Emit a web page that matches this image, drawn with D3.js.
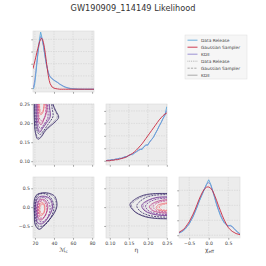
<!DOCTYPE html>
<html>
<head>
<meta charset="utf-8">
<script src="https://cdn.jsdelivr.net/npm/d3@7"></script>
<style>
  body { margin: 0; background: #fff; }
  svg { display: block; font-family: "DejaVu Sans", sans-serif; }
</style>
</head>
<body>
<div id="chart"></div>
<script>
// ---- data ----
const mcGrid = [18,19,20,21,22,23,24,25,26,27,28,29,30,31,32,33,34,35,36,38,40,42,44,46,48,50,52,55,58,62,66,72,82]
const mcData = [0.00,0.03,0.12,0.28,0.45,0.62,0.78,0.92,1.03,0.96,0.86,0.78,0.66,0.55,0.45,0.37,0.30,0.25,0.22,0.19,0.16,0.14,0.12,0.09,0.07,0.05,0.035,0.02,0.01,0.005,0,0,0]
const mcGauss = [0.37,0.44,0.51,0.58,0.66,0.73,0.80,0.86,0.90,0.92,0.90,0.84,0.75,0.63,0.50,0.37,0.25,0.16,0.10,0.04,0.02,0.01,0.005,0,0,0,0,0,0,0,0,0,0]
const mcKde = [0.02,0.08,0.18,0.32,0.48,0.63,0.77,0.88,0.95,0.94,0.87,0.78,0.67,0.56,0.46,0.38,0.31,0.26,0.23,0.19,0.165,0.14,0.12,0.095,0.075,0.055,0.04,0.022,0.012,0.005,0.002,0,0]

const etaGrid = [0.090,0.095,0.100,0.105,0.110,0.115,0.120,0.125,0.130,0.135,0.140,0.145,0.150,0.155,0.160,0.165,0.170,0.175,0.180,0.185,0.190,0.195,0.200,0.205,0.210,0.215,0.220,0.225,0.230,0.235,0.240,0.245,0.250]
const etaData = [0.00,0.01,0.01,0.02,0.02,0.03,0.03,0.05,0.04,0.06,0.08,0.07,0.10,0.12,0.11,0.15,0.17,0.20,0.22,0.21,0.27,0.30,0.29,0.36,0.40,0.44,0.52,0.58,0.66,0.72,0.80,0.86,1.02]
const etaGauss = [0.00,0.00,0.00,0.01,0.01,0.02,0.02,0.03,0.04,0.05,0.06,0.08,0.10,0.12,0.14,0.17,0.20,0.24,0.28,0.32,0.37,0.42,0.47,0.52,0.57,0.62,0.67,0.72,0.77,0.81,0.85,0.88,0.90]
const etaKde = [0.00,0.01,0.01,0.02,0.02,0.03,0.04,0.04,0.05,0.06,0.07,0.08,0.10,0.11,0.13,0.15,0.17,0.19,0.21,0.23,0.26,0.29,0.31,0.35,0.40,0.45,0.51,0.58,0.65,0.72,0.79,0.86,0.95]

const chiGrid = [-0.76,-0.7,-0.65,-0.6,-0.55,-0.5,-0.45,-0.4,-0.35,-0.3,-0.25,-0.2,-0.15,-0.1,-0.05,0.0,0.05,0.1,0.15,0.2,0.25,0.3,0.35,0.4,0.45,0.5,0.55,0.6,0.65,0.7,0.75,0.8]
const chiData = [0.04,0.06,0.08,0.11,0.16,0.20,0.27,0.33,0.42,0.50,0.60,0.68,0.76,0.85,0.93,1.00,0.92,0.80,0.68,0.55,0.45,0.35,0.28,0.22,0.19,0.17,0.18,0.16,0.12,0.08,0.05,0.02]
const chiGauss = [0.05,0.08,0.10,0.14,0.19,0.24,0.31,0.38,0.46,0.55,0.64,0.72,0.79,0.84,0.87,0.87,0.85,0.80,0.72,0.63,0.53,0.44,0.35,0.27,0.20,0.14,0.10,0.07,0.05,0.03,0.02,0.01]
const chiKde = [0.04,0.06,0.09,0.12,0.16,0.21,0.27,0.34,0.42,0.51,0.60,0.69,0.77,0.85,0.92,0.95,0.91,0.81,0.69,0.57,0.46,0.37,0.29,0.23,0.19,0.17,0.17,0.15,0.12,0.08,0.05,0.03]

// contour lines, outer level first: [x, y] in data units
const mcChiKde = [
  [[19.4,0.19],[21.5,0.31],[28,0.38],[36,0.36],[41,0.28],[43.2,0.05],[40.5,-0.15],[32,-0.42],[24.5,-0.59],[20.3,-0.47],[19.4,-0.2]],
  [[21,0.12],[23.5,0.26],[30,0.29],[36,0.22],[38.5,0.0],[35,-0.23],[28,-0.44],[22.8,-0.42],[21,-0.15]],
  [[22.8,0.06],[25,0.19],[30,0.2],[33.5,0.05],[32,-0.16],[27,-0.34],[23.5,-0.29],[22.6,-0.1]],
  [[24.5,0.0],[26,0.11],[29,0.11],[30.5,-0.02],[29,-0.18],[26,-0.23],[24.5,-0.13]]
]
const mcChiGauss = [
  [[20.3,0.08],[23,0.31],[29,0.36],[36,0.27],[40,0.02],[37,-0.26],[30,-0.48],[23.5,-0.5],[20.5,-0.3]],
  [[22,0.02],[24.5,0.21],[29,0.26],[34,0.15],[36,-0.05],[33,-0.28],[28,-0.39],[23.5,-0.34],[22,-0.18]],
  [[23.6,-0.02],[25.5,0.14],[29,0.17],[32,0.05],[32.5,-0.1],[30,-0.26],[26,-0.29],[24,-0.19]],
  [[25.4,-0.04],[27,0.07],[29.5,0.06],[30.2,-0.08],[28.5,-0.18],[26.5,-0.17]]
]
const mcChiData = [
  [[19.7,0.14],[22,0.34],[28.5,0.37],[35.5,0.34],[40.5,0.24],[42.4,0.02],[39.5,-0.18],[31.5,-0.44],[24.8,-0.57],[20.6,-0.44],[19.7,-0.18]],
  [[21.4,0.1],[24,0.25],[30,0.27],[35.5,0.2],[37.8,-0.02],[34.5,-0.24],[28,-0.42],[23.2,-0.4],[21.4,-0.16]],
  [[23.2,0.04],[25.3,0.17],[29.8,0.18],[33,0.04],[31.6,-0.17],[27,-0.32],[23.8,-0.27],[23,-0.1]],
  [[24.8,-0.02],[26.2,0.09],[28.8,0.09],[30,-0.03],[28.6,-0.16],[26.2,-0.2],[24.9,-0.12]]
]

const etaChiKde = [
  [[0.262,0.36],[0.22,0.36],[0.19,0.32],[0.165,0.2],[0.153,0.07],[0.163,-0.1],[0.188,-0.24],[0.22,-0.3],[0.262,-0.31]],
  [[0.262,0.27],[0.225,0.26],[0.2,0.18],[0.184,0.05],[0.19,-0.08],[0.21,-0.18],[0.235,-0.22],[0.262,-0.22]],
  [[0.262,0.2],[0.235,0.18],[0.213,0.1],[0.204,0.01],[0.212,-0.09],[0.235,-0.15],[0.262,-0.16]],
  [[0.262,0.12],[0.242,0.1],[0.226,0.05],[0.222,-0.02],[0.229,-0.08],[0.245,-0.1],[0.262,-0.1]]
]
const etaChiGauss = [
  [[0.262,0.33],[0.222,0.32],[0.196,0.26],[0.176,0.12],[0.171,0.03],[0.18,-0.11],[0.2,-0.21],[0.23,-0.26],[0.262,-0.26]],
  [[0.262,0.24],[0.228,0.22],[0.205,0.14],[0.194,0.03],[0.2,-0.08],[0.218,-0.16],[0.24,-0.19],[0.262,-0.19]],
  [[0.262,0.17],[0.238,0.15],[0.22,0.08],[0.214,0.01],[0.22,-0.07],[0.24,-0.12],[0.262,-0.13]],
  [[0.262,0.1],[0.245,0.08],[0.232,0.03],[0.231,-0.03],[0.238,-0.07],[0.25,-0.08],[0.262,-0.08]]
]
const etaChiData = [
  [[0.262,0.35],[0.22,0.35],[0.192,0.3],[0.168,0.18],[0.157,0.06],[0.166,-0.11],[0.19,-0.23],[0.222,-0.29],[0.262,-0.3]],
  [[0.262,0.26],[0.226,0.25],[0.202,0.17],[0.188,0.04],[0.193,-0.08],[0.212,-0.17],[0.236,-0.21],[0.262,-0.21]],
  [[0.262,0.19],[0.236,0.17],[0.216,0.09],[0.208,0.0],[0.215,-0.09],[0.237,-0.14],[0.262,-0.15]],
  [[0.262,0.11],[0.244,0.09],[0.229,0.04],[0.226,-0.03],[0.233,-0.08],[0.248,-0.09],[0.262,-0.09]]
]

const mcEtaKde = [
  [[19.3,0.262],[19.4,0.21],[20.5,0.175],[23,0.158],[26,0.162],[31,0.18],[36,0.192],[42,0.205],[45,0.216],[42,0.232],[39,0.25],[38.5,0.262]],
  [[21.2,0.262],[21.4,0.215],[22.8,0.186],[25,0.176],[28,0.186],[32,0.2],[36,0.216],[35.5,0.24],[34.5,0.262]],
  [[22.9,0.262],[23.1,0.222],[24.5,0.2],[26.5,0.196],[29.5,0.21],[32.5,0.232],[32,0.262]],
  [[24.3,0.262],[24.5,0.235],[26,0.222],[28,0.226],[29.5,0.243],[29.5,0.262]]
]
const mcEtaGauss = [
  [[20,0.262],[20.3,0.215],[22,0.182],[25,0.17],[29,0.18],[34,0.198],[39,0.218],[38,0.24],[37,0.262]],
  [[22,0.262],[22.2,0.22],[23.6,0.195],[26,0.186],[29.5,0.197],[33.5,0.215],[33.5,0.24],[33,0.262]],
  [[23.6,0.262],[23.8,0.228],[25.2,0.21],[27.5,0.206],[30.5,0.218],[31.5,0.24],[31,0.262]],
  [[25,0.262],[25.2,0.238],[26.7,0.228],[28.5,0.232],[29.8,0.248],[29.8,0.262]]
]
const mcEtaData = [
  [[19.5,0.262],[19.6,0.21],[20.8,0.178],[23.3,0.162],[26.3,0.166],[31,0.183],[36,0.195],[41,0.207],[43.5,0.218],[41,0.234],[38.5,0.25],[38,0.262]],
  [[21.4,0.262],[21.6,0.216],[23,0.19],[25.2,0.18],[28.2,0.19],[32,0.203],[35.5,0.22],[35,0.242],[34,0.262]],
  [[23.1,0.262],[23.3,0.224],[24.7,0.203],[26.7,0.2],[29.6,0.213],[32,0.234],[31.6,0.262]],
  [[24.5,0.262],[24.7,0.236],[26.2,0.225],[28.1,0.229],[29.4,0.245],[29.4,0.262]]
]

const mcTicks = [20, 40, 60, 80]
const etaTicks = [0.10, 0.15, 0.20, 0.25]
const chiTicks = [-0.5, 0.0, 0.5]
const dens0Ticks = [0.02, 0.24, 0.46, 0.68, 0.9]
const dens1Ticks = [0, 0.235, 0.47, 0.705, 0.94]
const dens2Ticks = [0, 0.27, 0.54, 0.81]

const legendLabels = ['Data Release', 'Gaussian Sampler', 'KDE', 'Data Release', 'Gaussian Sampler', 'KDE']

// ---- styling ----
const blue = '#5aa6da', red = '#c8283f', purple = '#9287cf'
const levelColors = ['#2a1a5e', '#6c2a8e', '#b93c86', '#f2727a']
const styleDash = { data: '0.6,0.9', gauss: '2,1', kde: null }

let width = 266, height = 266
let size = 61
let colX = [33, 106, 179], rowY = [31, 104, 177]

let svg = d3.select('#chart').append('svg')
  .attr('width', width).attr('height', height)

svg.append('text')
  .attr('x', 133).attr('y', 10.5)
  .attr('text-anchor', 'middle')
  .style('font-size', '8.2px')
  .style('fill', '#333')
  .text('GW190909_114149 Likelihood')

let xMc = d3.scaleLinear().domain([18, 82]).range([0, size])
let xEta = d3.scaleLinear().domain([0.09, 0.2505]).range([0, size])
let xChi = d3.scaleLinear().domain([-0.76, 0.8]).range([0, size])
let yEta = d3.scaleLinear().domain([0.09, 0.2505]).range([size, 0])
let yChi = d3.scaleLinear().domain([-0.82, 0.8]).range([size, 0])
let yD0 = d3.scaleLinear().domain([-0.05, 1.05]).range([size, 0])
let yD1 = d3.scaleLinear().domain([-0.08, 1.07]).range([size, 0])
let yD2 = d3.scaleLinear().domain([-0.05, 1.05]).range([size, 0])

let clipId = 0

function panel (col, row, xs, ys, xt, yt, xfmt, yfmt) {
  let g = svg.append('g')
    .attr('transform', 'translate(' + colX[col] + ',' + rowY[row] + ')')

  g.append('rect')
    .attr('width', size).attr('height', size)
    .style('fill', '#ececec')

  // grid
  g.selectAll('.gx').data(xt).enter().append('line')
    .attr('x1', d => xs(d)).attr('x2', d => xs(d))
    .attr('y1', 0).attr('y2', size)
    .style('stroke', '#cdcdcd').style('stroke-width', 0.5)
    .style('stroke-dasharray', '1.5,1')
  g.selectAll('.gy').data(yt).enter().append('line')
    .attr('y1', d => ys(d)).attr('y2', d => ys(d))
    .attr('x1', 0).attr('x2', size)
    .style('stroke', '#cdcdcd').style('stroke-width', 0.5)
    .style('stroke-dasharray', '1.5,1')

  g.append('rect')
    .attr('width', size).attr('height', size)
    .style('fill', 'none').style('stroke', '#dadada').style('stroke-width', 0.6)

  // axes
  let ax = g.append('g').attr('transform', 'translate(0,' + size + ')')
    .call(d3.axisBottom(xs).tickValues(xt).tickSize(1.8).tickPadding(1.5)
      .tickFormat(xfmt ? d3.format(xfmt) : ''))
  let ay = g.append('g')
    .call(d3.axisLeft(ys).tickValues(yt).tickSize(1.8).tickPadding(1.2)
      .tickFormat(yfmt ? d3.format(yfmt) : ''))
  ;[ax, ay].forEach(a => {
    a.select('.domain').remove()
    a.selectAll('line').style('stroke', '#555').style('stroke-width', 0.5)
    a.selectAll('text').style('font-size', '4.6px').style('fill', '#444')
      .style('font-family', '"DejaVu Sans", sans-serif')
  })

  let id = 'clip' + (clipId++)
  g.append('clipPath').attr('id', id)
    .append('rect').attr('width', size).attr('height', size)
  return g.append('g').attr('clip-path', 'url(#' + id + ')')
}

function curve1d (g, xs, ys, grid, vals, color, w) {
  let line = d3.line().x((d, i) => xs(grid[i])).y(d => ys(d))
  g.append('path').datum(vals)
    .attr('d', line)
    .style('fill', 'none').style('stroke', color).style('stroke-width', w || 0.9)
}

function contours (g, xs, ys, sets, closed) {
  let line = d3.line().x(d => xs(d[0])).y(d => ys(d[1]))
    .curve(closed ? d3.curveCatmullRomClosed : d3.curveCatmullRom)
  sets.forEach(s => {
    s.levels.forEach((pts, i) => {
      g.append('path').datum(pts)
        .attr('d', line)
        .style('fill', 'none')
        .style('stroke', levelColors[i])
        .style('stroke-width', 0.75)
        .style('stroke-dasharray', styleDash[s.kind])
    })
  })
}

// diagonal: chirp mass
let p00 = panel(0, 0, xMc, yD0, mcTicks, dens0Ticks, null, null)
curve1d(p00, xMc, yD0, mcGrid, mcKde, purple)
curve1d(p00, xMc, yD0, mcGrid, mcData, blue)
curve1d(p00, xMc, yD0, mcGrid, mcGauss, red)

// mass ratio parameter eta vs chirp mass
let p10 = panel(0, 1, xMc, yEta, mcTicks, etaTicks, null, '.2f')
contours(p10, xMc, yEta, [
  { kind: 'kde', levels: mcEtaKde },
  { kind: 'gauss', levels: mcEtaGauss },
  { kind: 'data', levels: mcEtaData }
], false)

// diagonal: eta
let p11 = panel(1, 1, xEta, yD1, etaTicks, dens1Ticks, null, null)
curve1d(p11, xEta, yD1, etaGrid, etaKde, purple)
curve1d(p11, xEta, yD1, etaGrid, etaData, blue)
curve1d(p11, xEta, yD1, etaGrid, etaGauss, red)

// chi_eff vs chirp mass
let p20 = panel(0, 2, xMc, yChi, mcTicks, chiTicks, 'd', '.1f')
contours(p20, xMc, yChi, [
  { kind: 'kde', levels: mcChiKde },
  { kind: 'gauss', levels: mcChiGauss },
  { kind: 'data', levels: mcChiData }
], true)

// chi_eff vs eta
let p21 = panel(1, 2, xEta, yChi, etaTicks, chiTicks, '.2f', null)
contours(p21, xEta, yChi, [
  { kind: 'kde', levels: etaChiKde },
  { kind: 'gauss', levels: etaChiGauss },
  { kind: 'data', levels: etaChiData }
], false)

// diagonal: chi_eff
let p22 = panel(2, 2, xChi, yD2, chiTicks, dens2Ticks, '.1f', null)
curve1d(p22, xChi, yD2, chiGrid, chiKde, purple)
curve1d(p22, xChi, yD2, chiGrid, chiData, blue)
curve1d(p22, xChi, yD2, chiGrid, chiGauss, red)

// axis labels
let labelY = 252
let lab1 = svg.append('text').attr('x', colX[0] + size / 2).attr('y', labelY)
  .attr('text-anchor', 'middle').style('font-size', '6px').style('fill', '#444')
lab1.append('tspan').text('ℳ')
lab1.append('tspan').attr('dy', 1.2).style('font-size', '4.2px').text('c')

svg.append('text').attr('x', colX[1] + size / 2).attr('y', labelY)
  .attr('text-anchor', 'middle').style('font-size', '6px').style('fill', '#444')
  .text('η')

let lab3 = svg.append('text').attr('x', colX[2] + size / 2).attr('y', labelY)
  .attr('text-anchor', 'middle').style('font-size', '6px').style('fill', '#444')
lab3.append('tspan').text('χ')
lab3.append('tspan').attr('dy', 1.2).style('font-size', '4.2px').text('eff')

// legend
let legendColors = [blue, red, purple, '#a0a0a0', '#a0a0a0', '#a0a0a0']
let legendDash = [null, null, null, '0.8,1', '2.2,1.2', null]
let lg = svg.append('g').attr('transform', 'translate(185,35)')
lg.append('rect').attr('width', 62).attr('height', 44)
  .style('fill', '#f6f6f6').style('stroke', '#dddddd').style('stroke-width', 0.5)
let ent = lg.selectAll('.leg').data(legendLabels).enter().append('g')
  .attr('transform', (d, i) => 'translate(0,' + (5.2 + i * 7) + ')')
ent.append('line')
  .attr('x1', 2.5).attr('x2', 12.5)
  .style('stroke', (d, i) => legendColors[i])
  .style('stroke-width', 0.9)
  .style('stroke-dasharray', (d, i) => legendDash[i])
ent.append('text')
  .attr('x', 16).attr('y', 1.5)
  .style('font-size', '4.3px').style('fill', '#444')
  .text(d => d)
</script>
</body>
</html>
